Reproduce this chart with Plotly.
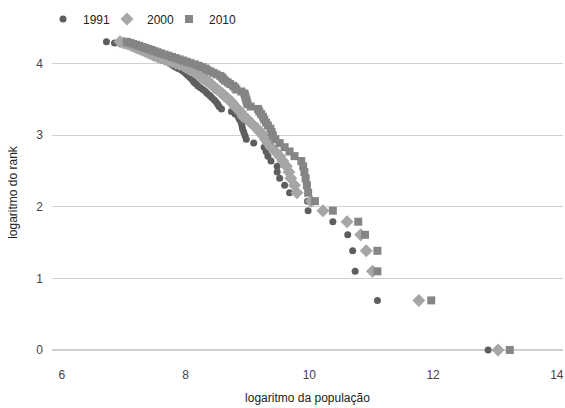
import plotly.graph_objects as go

# log(rank) for ranks 1..74
log_rank = [0.000, 0.693, 1.099, 1.386, 1.609, 1.792, 1.946, 2.079, 2.197, 2.303,
            2.398, 2.485, 2.565, 2.639, 2.708, 2.773, 2.833, 2.890, 2.944, 2.996,
            3.045, 3.091, 3.135, 3.178, 3.219, 3.258, 3.296, 3.332, 3.367, 3.401,
            3.434, 3.466, 3.497, 3.526, 3.555, 3.584, 3.611, 3.638, 3.664, 3.689,
            3.714, 3.738, 3.761, 3.784, 3.807, 3.829, 3.850, 3.871, 3.892, 3.912,
            3.932, 3.951, 3.970, 3.989, 4.007, 4.025, 4.043, 4.060, 4.078, 4.094,
            4.111, 4.127, 4.143, 4.159, 4.174, 4.190, 4.205, 4.220, 4.234, 4.248,
            4.263, 4.277, 4.290, 4.304]

# log(population) per rank
pop_1991 = [12.89, 11.10, 10.74, 10.70, 10.62, 10.38, 9.98, 9.97, 9.68, 9.60,
            9.52, 9.48, 9.48, 9.38, 9.33, 9.30, 9.27, 9.10, 8.98, 8.96,
            8.94, 8.92, 8.91, 8.90, 8.87, 8.85, 8.80, 8.74, 8.58, 8.54,
            8.52, 8.49, 8.46, 8.42, 8.39, 8.35, 8.32, 8.28, 8.24, 8.20,
            8.17, 8.14, 8.12, 8.10, 8.07, 8.05, 8.02, 7.99, 7.96, 7.93,
            7.88, 7.84, 7.80, 7.78, 7.74, 7.70, 7.64, 7.58, 7.55, 7.51,
            7.48, 7.45, 7.40, 7.36, 7.32, 7.29, 7.26, 7.22, 7.18, 7.13,
            7.05, 6.95, 6.85, 6.72]

pop_2000 = [13.05, 11.77, 11.02, 10.92, 10.83, 10.61, 10.22, 10.03, 9.80, 9.76,
            9.70, 9.67, 9.63, 9.57, 9.52, 9.45, 9.38, 9.33, 9.29, 9.25,
            9.20, 9.16, 9.10, 9.05, 9.00, 8.93, 8.91, 8.88, 8.84, 8.80,
            8.77, 8.74, 8.70, 8.66, 8.62, 8.59, 8.55, 8.51, 8.47, 8.44,
            8.41, 8.38, 8.34, 8.30, 8.26, 8.23, 8.20, 8.16, 8.12, 8.08,
            8.04, 8.00, 7.96, 7.90, 7.84, 7.78, 7.72, 7.66, 7.60, 7.55,
            7.50, 7.46, 7.42, 7.38, 7.34, 7.30, 7.26, 7.22, 7.18, 7.14,
            7.10, 7.05, 7.00, 6.94]

pop_2010 = [13.24, 11.97, 11.10, 11.10, 10.90, 10.79, 10.38, 10.09, 9.98, 9.96,
            9.94, 9.92, 9.90, 9.87, 9.76, 9.68, 9.60, 9.52, 9.45, 9.41,
            9.39, 9.37, 9.33, 9.30, 9.27, 9.25, 9.22, 9.19, 9.17, 9.05,
            9.00, 8.99, 8.98, 8.97, 8.96, 8.95, 8.90, 8.82, 8.80, 8.77,
            8.72, 8.68, 8.64, 8.61, 8.59, 8.56, 8.50, 8.45, 8.40, 8.35,
            8.32, 8.27, 8.21, 8.15, 8.08, 8.02, 7.96, 7.90, 7.84, 7.78,
            7.72, 7.66, 7.60, 7.55, 7.50, 7.45, 7.40, 7.35, 7.30, 7.25,
            7.20, 7.15, 7.10, 7.05]

series_names = ["1991", "2000", "2010"]
x_ticks = [6, 8, 10, 12, 14]
y_ticks = [0, 1, 2, 3, 4]

FONT = "Liberation Sans, Arial, sans-serif"
W, H = 565, 408

fig = go.Figure()
styles = [("circle", 7, "#5e5e5e"), ("diamond", 10, "#a6a6a6"), ("square", 8, "#858585")]
legend_ids = ["legend", "legend2", "legend3"]
legend_left_px = [43, 107, 169]
for name, xs, (sym, sz, col), lid in zip(series_names, [pop_1991, pop_2000, pop_2010],
                                         styles, legend_ids):
    fig.add_trace(go.Scatter(
        x=xs, y=log_rank, mode="markers", name=name, legend=lid,
        marker=dict(symbol=sym, size=sz, color=col, line=dict(width=0)),
        cliponaxis=False,
    ))

legend_common = dict(orientation="h", xanchor="left", xref="container",
                     y=1 - 19/H, yanchor="middle", yref="container",
                     font=dict(size=12, color="#222222"), bgcolor="rgba(0,0,0,0)",
                     itemwidth=30)

fig.update_layout(
    width=W, height=H,
    margin=dict(l=52, r=2, t=35, b=58, autoexpand=False),
    paper_bgcolor="white", plot_bgcolor="white",
    font=dict(family=FONT, size=12, color="#222222"),
    showlegend=True,
    legend=dict(x=legend_left_px[0]/W, **legend_common),
    legend2=dict(x=legend_left_px[1]/W, **legend_common),
    legend3=dict(x=legend_left_px[2]/W, **legend_common),
    xaxis=dict(range=[5.84, 14.1], tickvals=x_ticks, showgrid=False, zeroline=False,
               showline=False, ticks="", ticklabelstandoff=16, automargin=False,
               tickfont=dict(size=12, color="#444444"),
               title=dict(text="logaritmo da população", font=dict(size=12, color="#222222"),
                          standoff=12)),
    yaxis=dict(range=[0, 4.4], tickvals=y_ticks, showgrid=True, gridcolor="#d0d0d0",
               gridwidth=1, zeroline=True, zerolinecolor="#cfcfcf", zerolinewidth=1.5,
               showline=False, ticks="", ticklabelstandoff=8, automargin=False,
               tickfont=dict(size=12, color="#444444"),
               title=dict(text="logaritmo do rank", font=dict(size=12, color="#222222"),
                          standoff=16)),
)

fig.write_html("out.html", config={"displayModeBar": False},
               post_script="document.body.style.margin='0';document.body.style.overflow='hidden';")
